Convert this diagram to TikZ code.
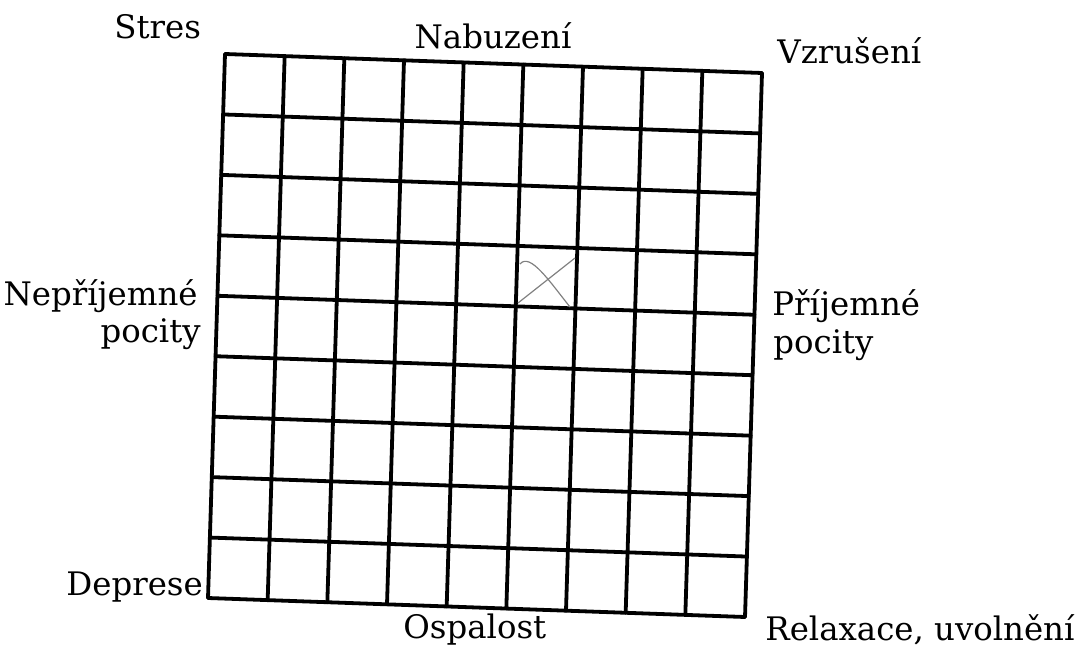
\documentclass[tikz,border=0pt]{standalone}
\usepackage{fontspec}
\setmainfont{DejaVu Serif}
\usetikzlibrary{calc}

\tikzset{
    gridline/.style={black, line width=1.9pt, line cap=round},
    tick/.style={gray, line width=0.6pt},
    lbl/.style={inner sep=0pt, font=\fontsize{16.2}{19}\selectfont}
}

\begin{document}
\begin{tikzpicture}[x=0.5pt, y=-0.5pt]
        \useasboundingbox (0,0) rectangle (1080,663);
        % Corners of the grid.
            \coordinate (tl) at (225,54);
            \coordinate (tr) at (762,73);
            \coordinate (bl) at (208,598);
            \coordinate (br) at (745,617);
        % This draws the 9 by 9 grid.
            \foreach \i in {0,...,9} {
                \draw[gridline] ($(tl)!\i/9!(bl)$) -- ($(tr)!\i/9!(br)$);
                \draw[gridline] ($(tl)!\i/9!(tr)$) -- ($(bl)!\i/9!(br)$);
            }
        % The cross in the marked cell.
            \coordinate (xa) at (518,303);
            \coordinate (xb) at (575,258);
            \coordinate (xc) at (520,264);
            \coordinate (xd) at (570,307);
            \draw[tick] (xa) -- (xb);
            \draw[tick] (xc) .. controls (530,252) and (550,282) .. (xd);
        % Below nodes are the labels.
            \node[lbl, anchor=base west] (stres) at (114,39) {Stres};
            \node[lbl, anchor=base] (nabuz) at (493,49) {Nabuzení};
            \node[lbl, anchor=base west] (vzrus) at (777,64) {Vzrušení};
            \node[lbl, anchor=base east] (neprij) at (198,305) {Nepříjemné};
            \node[lbl, anchor=base east] (neprijb) at (201,342) {pocity};
            \node[lbl, anchor=base west] (prij) at (772,315) {Příjemné};
            \node[lbl, anchor=base west] (prijb) at (773,353) {pocity};
            \node[lbl, anchor=base west] (depr) at (66,595) {Deprese};
            \node[lbl, anchor=base west] (ospal) at (403,638) {Ospalost};
            \node[lbl, anchor=base west] (relax) at (765,640) {Relaxace, uvolnění};
    \end{tikzpicture}
\end{document}
